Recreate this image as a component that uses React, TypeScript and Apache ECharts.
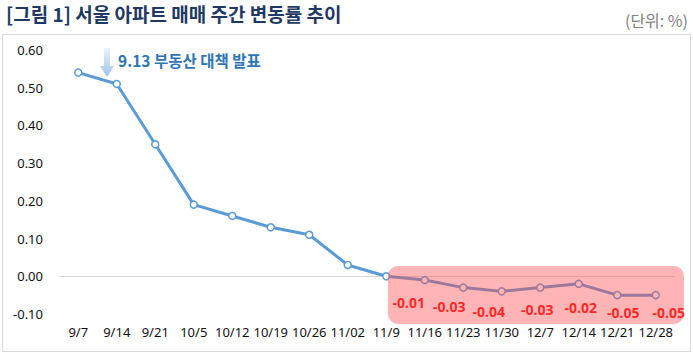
import React, { useEffect, useRef } from "react";
import * as echarts from "echarts";

const categories = ["9/7", "9/14", "9/21", "10/5", "10/12", "10/19", "10/26", "11/02", "11/9", "11/16", "11/23", "11/30", "12/7", "12/14", "12/21", "12/28"];
const weeklyChange = [0.54, 0.51, 0.35, 0.19, 0.16, 0.13, 0.11, 0.03, 0.0, -0.01, -0.03, -0.04, -0.03, -0.02, -0.05, -0.05];
const firstLabeledIndex = 9;
const titleText = "[그림 1] 서울 아파트 매매 주간 변동률 추이";
const unitText = "(단위: %)";
const annotationText = "9.13 부동산 대책 발표";

// label offsets (style only)
const labelOffsets: [number, number][] = [
  [-16, 22], [-14, 19], [-13, 20], [-3, 22], [2, 24], [6, 17], [13, 17],
];

const KR = '"Noto Sans CJK KR", "Noto Sans", sans-serif';
const NUM = '"Noto Sans", "DejaVu Sans", sans-serif';

export default function App() {
  const ref = useRef<HTMLDivElement>(null);
  useEffect(() => {
    if (!ref.current) return;
    const chart = echarts.init(ref.current, undefined, { renderer: "svg" });
    const labelData = weeklyChange.map((v, i) => {
      if (i < firstLabeledIndex) return null;
      const off = labelOffsets[i - firstLabeledIndex] || [0, 20];
      return {
        value: v,
        label: { offset: off },
      };
    });
    chart.setOption({
      animation: false,
      backgroundColor: "#ffffff",
      grid: { left: 59, right: 18, top: 50, bottom: 40 },
      xAxis: {
        type: "category",
        data: categories,
        boundaryGap: true,
        axisLine: { show: false },
        axisTick: { show: false },
        axisLabel: { color: "#111", fontSize: 13, fontFamily: NUM, margin: 11, interval: 0 },
      },
      yAxis: {
        type: "value",
        min: -0.1,
        max: 0.6,
        interval: 0.1,
        splitLine: { show: false },
        axisLine: { show: false },
        axisTick: { show: false },
        axisLabel: {
          color: "#111",
          fontSize: 13,
          fontFamily: NUM,
          margin: 16,
          formatter: (v: number) => v.toFixed(2),
        },
      },
      series: [
        {
          type: "line",
          data: weeklyChange,
          z: 2,
          symbol: "circle",
          symbolSize: 7,
          lineStyle: { color: "#5B9BD5", width: 3 },
          itemStyle: { color: "#ffffff", borderColor: "#5B9BD5", borderWidth: 1.5 },
          markLine: {
            silent: true,
            symbol: "none",
            label: { show: false },
            lineStyle: { color: "#D9D9D9", width: 1, type: "solid" },
            data: [{ yAxis: 0 }],
            z: 1,
          },
        },
        {
          type: "scatter",
          data: labelData,
          z: 10,
          symbolSize: 1,
          itemStyle: { color: "rgba(0,0,0,0)" },
          label: {
            show: true,
            position: "inside",
            color: "#FF0000",
            fontSize: 14,
            fontWeight: "bold",
            fontFamily: NUM,
            formatter: (p: any) => Number(p.value).toFixed(2),
          },
        },
      ],
      graphic: [
        {
          type: "rect",
          z: 100,
          shape: { x: 2.5, y: 34.5, width: 688, height: 317 },
          style: { fill: "none", stroke: "#D9D9D9", lineWidth: 1 },
          silent: true,
        },
        {
          type: "rect",
          z: 5,
          shape: { x: 388, y: 266, width: 296, height: 58, r: 10 },
          style: { fill: "rgba(255,70,70,0.40)" },
          silent: true,
        },
        {
          type: "text",
          z: 100,
          x: 6,
          y: 13,
          style: {
            text: titleText,
            fill: "#1F3864",
            font: `bold 19px ${KR}`,
            textVerticalAlign: "middle",
          },
        },
        {
          type: "text",
          z: 100,
          x: 688,
          y: 20,
          style: {
            text: unitText,
            fill: "#808080",
            font: `16px ${KR}`,
            textAlign: "right",
            textVerticalAlign: "middle",
          },
        },
        {
          type: "text",
          z: 100,
          x: 118,
          y: 60,
          style: {
            text: annotationText,
            fill: "#2E75B6",
            font: `bold 15.5px ${KR}`,
            textVerticalAlign: "middle",
          },
        },
        {
          type: "polygon",
          z: 100,
          shape: {
            points: [[104, 48], [110, 48], [110, 66], [114, 66], [107, 77], [100, 66], [104, 66]],
          },
          style: {
            fill: new echarts.graphic.LinearGradient(0, 0, 0, 1, [
              { offset: 0, color: "#EAF2FC" },
              { offset: 1, color: "#9DC3E6" },
            ]),
          },
        },
      ],
    });
    return () => chart.dispose();
  }, []);
  return (
    <div
      ref={ref}
      style={{ position: "fixed", left: 0, top: 0, width: 693, height: 354 }}
    />
  );
}
